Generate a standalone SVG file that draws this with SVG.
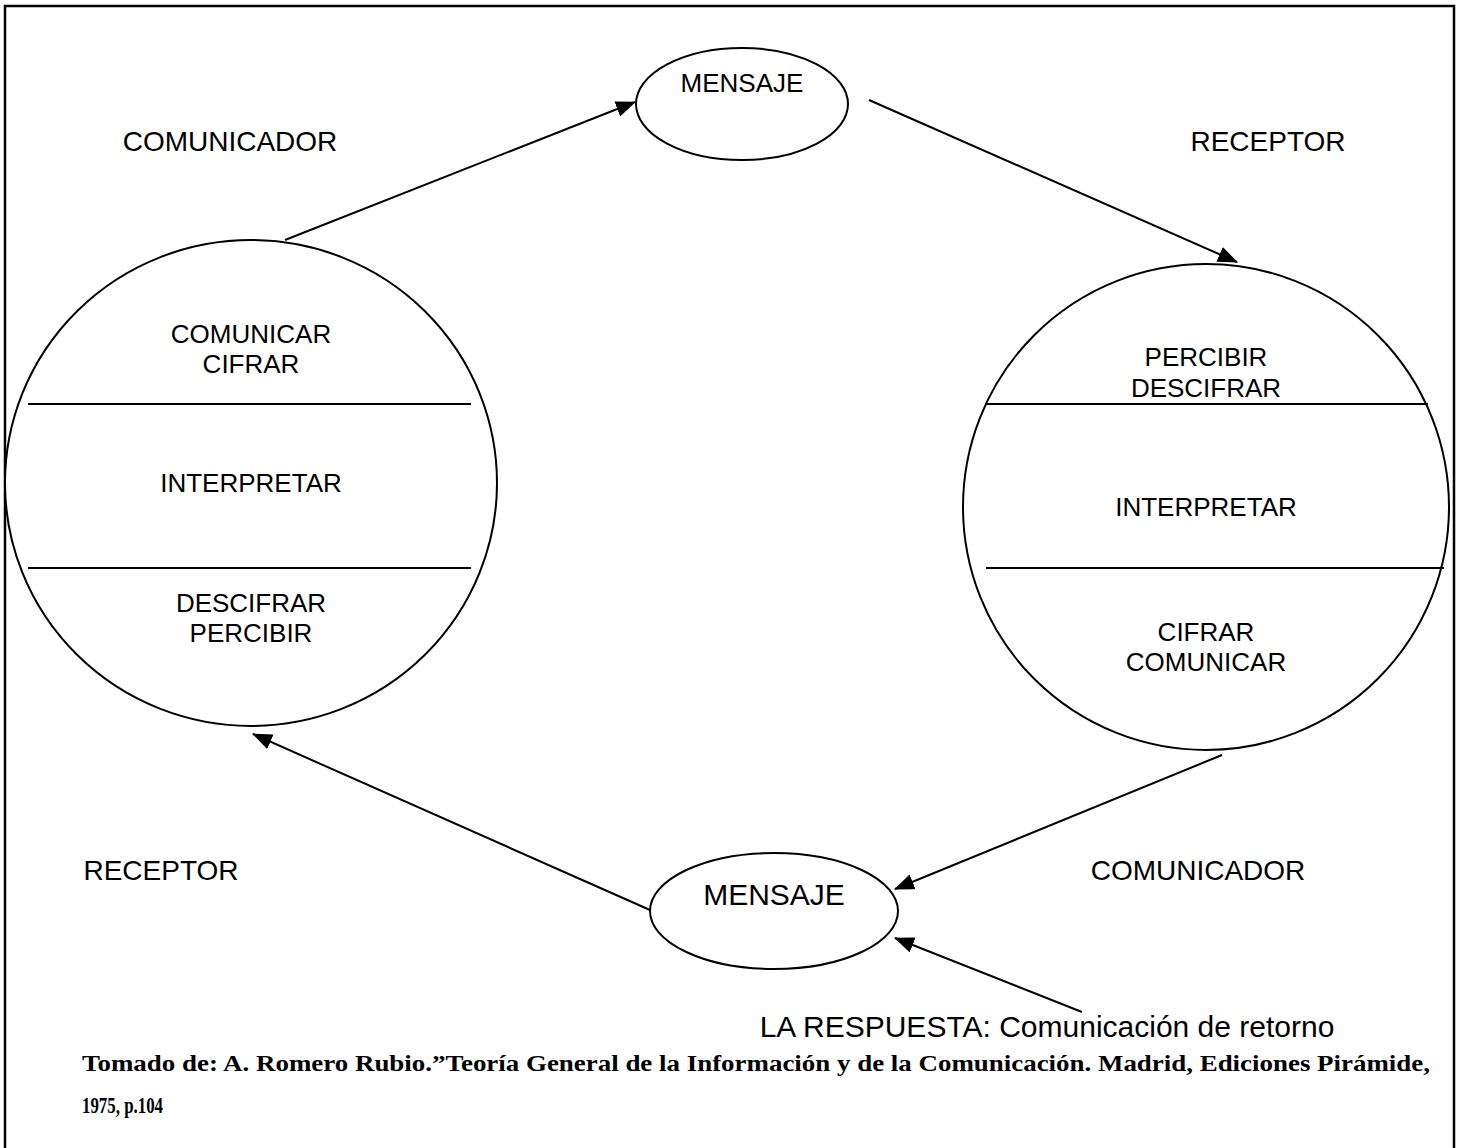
<svg xmlns="http://www.w3.org/2000/svg" width="1463" height="1148" viewBox="0 0 1463 1148">
<style>
.shape{fill:#fff;stroke:#000;stroke-width:2}
.div{stroke:#000;stroke-width:2}
.lbl{font-family:"Liberation Sans",Arial,sans-serif;fill:#000;text-anchor:middle}
.s26{font-size:26px}
.s28{font-size:28px}
.s30{font-size:30px}
.cit{font-family:"Liberation Serif","Times New Roman",serif;font-weight:bold;font-size:23px;fill:#000}
.conn line{stroke:#000;stroke-width:2;marker-end:url(#ah)}
</style>
<defs>
<marker id="ah" markerUnits="userSpaceOnUse" markerWidth="20" markerHeight="16" viewBox="0 0 20 16" refX="19" refY="8" orient="auto">
<path d="M0,0 L20,8 L0,16 Z" fill="#000"/>
</marker>
</defs>
<rect x="0" y="0" width="1463" height="1148" fill="#fff"/>
<path d="M5,1148 V6 H1454 V1148" fill="none" stroke="#000" stroke-width="2.5"/>

<g id="label-comunicador-top"><text class="lbl s28" x="230" y="151">COMUNICADOR</text></g>
<g id="label-receptor-top"><text class="lbl s28" x="1268" y="151">RECEPTOR</text></g>
<g id="label-receptor-bottom"><text class="lbl s28" x="161" y="880">RECEPTOR</text></g>
<g id="label-comunicador-bottom"><text class="lbl s28" x="1198" y="880">COMUNICADOR</text></g>

<g id="mensaje-top">
<ellipse class="shape" cx="742" cy="104" rx="106" ry="56"/>
<text class="lbl s26" x="742" y="92">MENSAJE</text>
</g>

<g id="circle-left">
<ellipse class="shape" cx="251" cy="483" rx="246" ry="243"/>
<line class="div" x1="28" y1="404" x2="471" y2="404"/>
<line class="div" x1="28" y1="568" x2="471" y2="568"/>
<text class="lbl s26" x="251" y="343">COMUNICAR</text>
<text class="lbl s26" x="251" y="373">CIFRAR</text>
<text class="lbl s26" x="251" y="492">INTERPRETAR</text>
<text class="lbl s26" x="251" y="612">DESCIFRAR</text>
<text class="lbl s26" x="251" y="642">PERCIBIR</text>
</g>

<g id="circle-right">
<ellipse class="shape" cx="1206" cy="507" rx="243" ry="243"/>
<line class="div" x1="987" y1="404" x2="1428" y2="404"/>
<line class="div" x1="986" y1="568" x2="1444" y2="568"/>
<text class="lbl s26" x="1206" y="366">PERCIBIR</text>
<text class="lbl s26" x="1206" y="397">DESCIFRAR</text>
<text class="lbl s26" x="1206" y="516">INTERPRETAR</text>
<text class="lbl s26" x="1206" y="641">CIFRAR</text>
<text class="lbl s26" x="1206" y="671">COMUNICAR</text>
</g>

<g id="mensaje-bottom">
<ellipse class="shape" cx="774" cy="911" rx="124" ry="58"/>
<text class="lbl s30" x="774" y="905">MENSAJE</text>
</g>

<g id="label-respuesta"><text class="lbl s30" x="1047" y="1037">LA RESPUESTA: Comunicación de retorno</text></g>

<g id="citation">
<text class="cit" x="82" y="1071" textLength="1348" lengthAdjust="spacingAndGlyphs">Tomado de: A. Romero Rubio.”Teoría General de la Información y de la Comunicación. Madrid, Ediciones Pirámide,</text>
<text class="cit" x="82" y="1113" textLength="81" lengthAdjust="spacingAndGlyphs">1975, p.104</text>
</g>

<g id="connectors" class="conn">
<line x1="285" y1="240" x2="635" y2="102"/>
<line x1="869" y1="100" x2="1237" y2="262"/>
<line x1="1222" y1="755" x2="895" y2="889"/>
<line x1="1082" y1="1012" x2="895" y2="938"/>
<line x1="650" y1="910" x2="253" y2="734"/>
</g>
</svg>
